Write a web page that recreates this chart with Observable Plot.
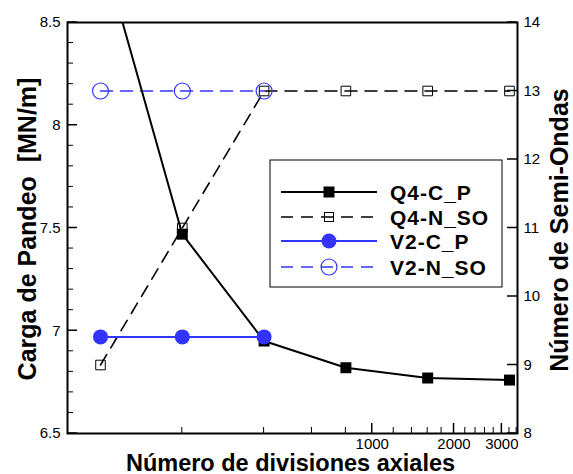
<!DOCTYPE html>
<html>
<head>
<meta charset="utf-8">
<script src="https://cdn.jsdelivr.net/npm/d3@7"></script>
<script src="https://cdn.jsdelivr.net/npm/@observablehq/plot@0.6"></script>
<style>
  html, body { margin: 0; padding: 0; background: white; }
  #chart { position: relative; width: 573px; height: 474px; }
</style>
</head>
<body>
<div id="chart"></div>
<script>
// ---- data ----
const xs = [100, 200, 400, 800, 1600, 3200];
const q4CP = [8.88, 7.47, 6.95, 6.82, 6.77, 6.76];   // left axis, MN/m
const q4NSO = [9, 11, 13, 13, 13, 13];               // right axis, semi-ondas
const v2X = [100, 200, 400];
const v2CP = [6.97, 6.97, 6.97];
const v2NSO = [13, 13, 13];

const seriesNames = ["Q4-C_P", "Q4-N_SO", "V2-C_P", "V2-N_SO"];

const leftTicks = [6.5, 7, 7.5, 8, 8.5];
const leftMinor = [6.6, 6.7, 6.8, 6.9, 7.1, 7.2, 7.3, 7.4, 7.6, 7.7, 7.8, 7.9, 8.1, 8.2, 8.3, 8.4];
const rightTicks = [8, 9, 10, 11, 12, 13, 14];
const xTicks = [1000, 2000, 3000];
const xMinor = [200, 400, 600, 800, 1200, 1400, 1600, 1800, 2200, 2400, 2600, 2800, 3200, 3400];

const leftDomain = [6.5, 8.5];
const rightDomain = [8, 14];
const xDomain = [75.6, 3425];

const blue = "#3333ff";

// right-axis values expressed in left-axis units
const toLeft = v => leftDomain[0] + (v - rightDomain[0]) * (leftDomain[1] - leftDomain[0]) / (rightDomain[1] - rightDomain[0]);
const fromLeft = v => rightDomain[0] + (v - leftDomain[0]) * (rightDomain[1] - rightDomain[0]) / (leftDomain[1] - leftDomain[0]);

const q4cpData = xs.map((x, i) => ({x, y: q4CP[i]}));
const q4nsoData = xs.map((x, i) => ({x, y: toLeft(q4NSO[i])}));
const v2cpData = v2X.map((x, i) => ({x, y: v2CP[i]}));
const v2nsoData = v2X.map((x, i) => ({x, y: toLeft(v2NSO[i])}));

const W = 573, H = 474, mL = 67, mR = 56, mT = 22, mB = 41;

const plot = Plot.plot({
  width: W, height: H,
  marginLeft: mL, marginRight: mR, marginTop: mT, marginBottom: mB,
  style: {fontFamily: "'Liberation Sans', Arial, sans-serif", fontSize: "15px", color: "black", background: "white"},
  x: {type: "log", domain: xDomain, axis: null},
  y: {domain: leftDomain, axis: null},
  marks: [
    // tick labels
    Plot.axisY({anchor: "left", label: null, ticks: leftTicks, tickSize: 0, tickPadding: 7, fontSize: 15, tickFormat: d => String(d)}),
    Plot.axisY({anchor: "right", label: null, ticks: rightTicks.map(toLeft), tickSize: 0, tickPadding: 6, fontSize: 15, tickFormat: d => String(Math.round(fromLeft(d)))}),
    Plot.axisX({anchor: "bottom", label: null, ticks: xTicks, tickSize: 0, tickPadding: 5, fontSize: 15, tickFormat: d => String(d)}),
    // series
    Plot.line(q4nsoData, {x: "x", y: "y", stroke: "black", strokeWidth: 1.6, strokeDasharray: "12,8", clip: true}),
    Plot.line(v2nsoData, {x: "x", y: "y", stroke: blue, strokeWidth: 1.6, strokeDasharray: "12,8", clip: true}),
    Plot.line(q4cpData, {x: "x", y: "y", stroke: "black", strokeWidth: 2, clip: true}),
    Plot.dot(q4cpData, {x: "x", y: "y", symbol: "square", r: 6.2, fill: "black", clip: true}),
    Plot.line(v2cpData, {x: "x", y: "y", stroke: blue, strokeWidth: 2, clip: true}),
    Plot.dot(v2cpData, {x: "x", y: "y", r: 7.5, fill: blue, clip: true}),
    Plot.dot(v2nsoData, {x: "x", y: "y", r: 8, stroke: blue, strokeWidth: 1.2, fill: "none", clip: true}),
    Plot.dot(q4nsoData, {x: "x", y: "y", symbol: "square", r: 5.4, stroke: "black", strokeWidth: 1, fill: "none", clip: true}),
    Plot.frame({stroke: "black", strokeWidth: 2}),
    // axis titles
    Plot.text(["Carga de Pandeo  [MN/m]"], {frameAnchor: "left", rotate: -90, dx: -40, dy: 1, fontSize: 25, fontWeight: "bold", textAnchor: "middle", lineAnchor: "middle"}),
    Plot.text(["Número de Semi-Ondas"], {frameAnchor: "right", rotate: -90, dx: 42, dy: 2, fontSize: 25, fontWeight: "bold", textAnchor: "middle", lineAnchor: "middle"}),
    Plot.text(["Número de divisiones axiales"], {frameAnchor: "bottom", dy: 30, dx: -2, fontSize: 23.5, fontWeight: "bold", textAnchor: "middle", lineAnchor: "middle"})
  ]
});

document.getElementById("chart").appendChild(plot);

const svg = d3.select(plot);
const xs_ = plot.scale("x"), ys_ = plot.scale("y");
const X = v => xs_.apply(v), Y = v => ys_.apply(v);
const x0 = mL, x1 = W - mR, y1 = H - mB;

// ---- inward ticks (positions from Plot's scales) ----
const tg = svg.append("g").attr("stroke", "black");
leftTicks.forEach(v => tg.append("line").attr("x1", x0).attr("x2", x0 + 10).attr("y1", Y(v)).attr("y2", Y(v)).attr("stroke-width", 1.5));
leftMinor.forEach(v => tg.append("line").attr("x1", x0).attr("x2", x0 + 6).attr("y1", Y(v)).attr("y2", Y(v)).attr("stroke-width", 1));
rightTicks.forEach(v => tg.append("line").attr("x1", x1 - 10).attr("x2", x1).attr("y1", Y(toLeft(v))).attr("y2", Y(toLeft(v))).attr("stroke-width", 1.5));
xTicks.forEach(v => tg.append("line").attr("x1", X(v)).attr("x2", X(v)).attr("y1", y1 - 10).attr("y2", y1).attr("stroke-width", 1.5));
xMinor.forEach(v => tg.append("line").attr("x1", X(v)).attr("x2", X(v)).attr("y1", y1 - 6).attr("y2", y1).attr("stroke-width", 1));

// ---- legend ----
const lg = svg.append("g").attr("class", "legend");
lg.append("rect").attr("x", 270).attr("y", 160).attr("width", 232).attr("height", 127)
  .attr("fill", "white").attr("stroke", "black").attr("stroke-width", 1);
const rowsY = [192, 217, 241, 267];
const styles = [
  {stroke: "black", dash: null, sym: "fsq"},
  {stroke: "black", dash: "12,8", sym: "osq"},
  {stroke: blue, dash: null, sym: "fci"},
  {stroke: blue, dash: "12,8", sym: "oci"}
];
seriesNames.forEach((name, i) => {
  const y = rowsY[i], s = styles[i];
  const ln = lg.append("line").attr("x1", 281).attr("x2", 377).attr("y1", y).attr("y2", y)
    .attr("stroke", s.stroke).attr("stroke-width", i % 2 ? 1.6 : 2);
  if (s.dash) ln.attr("stroke-dasharray", s.dash);
  if (s.sym === "fsq") lg.append("rect").attr("x", 329 - 5.5).attr("y", y - 5.5).attr("width", 11).attr("height", 11).attr("fill", "black");
  if (s.sym === "osq") lg.append("rect").attr("x", 329 - 4.5).attr("y", y - 4.5).attr("width", 9).attr("height", 9).attr("fill", "none").attr("stroke", "black");
  if (s.sym === "fci") lg.append("circle").attr("cx", 329).attr("cy", y).attr("r", 7.5).attr("fill", blue);
  if (s.sym === "oci") lg.append("circle").attr("cx", 329).attr("cy", y).attr("r", 8).attr("fill", "none").attr("stroke", blue).attr("stroke-width", 1.2);
  lg.append("text").attr("x", 390).attr("y", y).attr("dy", "0.36em").attr("text-anchor", "start")
    .attr("font-size", 21).attr("letter-spacing", 1).attr("font-weight", "bold").attr("fill", "black").text(name);
});
</script>
</body>
</html>
